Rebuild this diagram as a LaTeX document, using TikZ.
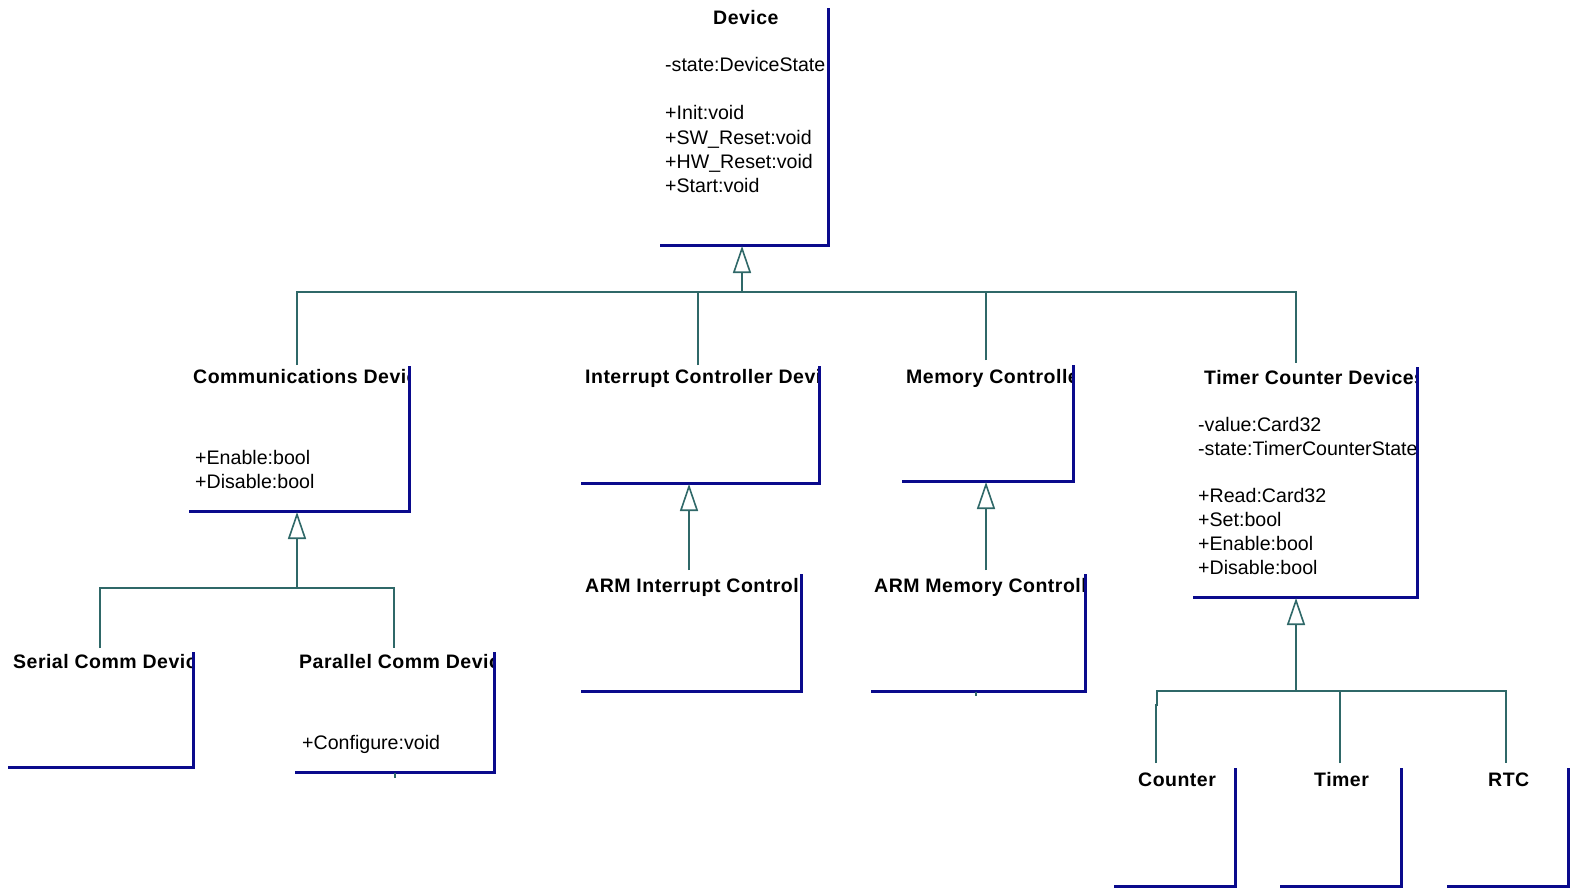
\documentclass[tikz,border=0pt]{standalone}
\usepackage{fontspec}
\setmainfont{Liberation Sans}
\newfontfamily\titlefont[LetterSpace=2.5]{Liberation Sans Bold}
\usetikzlibrary{arrows.meta}
\definecolor{boxblue}{RGB}{10,10,140}
\definecolor{lineteal}{RGB}{47,104,104}
\tikzset{
  boxline/.style={draw=boxblue,line width=3pt,line cap=rect},
  conn/.style={draw=lineteal,line width=1.6pt},
  inh/.style={conn,-{Triangle[open,length=27pt,width=18pt,line width=1.6pt]}},
  ctitle/.style={anchor=base west,inner sep=0pt,font=\fontsize{19.5pt}{24pt}\selectfont\titlefont},
  attr/.style={anchor=base west,inner sep=0pt,font=\fontsize{19.6pt}{24pt}\selectfont},
}
\begin{document}
\begin{tikzpicture}[x=1pt,y=-1pt]
\useasboundingbox (0,0) rectangle (1570,888);
\fill[white] (0,0) rectangle (1570,888);

% ---------- Device ----------
\begin{scope}
\clip (600,0) rectangle (827,246);
\node[ctitle] (devT) at (713,25) {Device};
\node[attr] (devA1) at (665,72) {-state:DeviceState};
\node[attr] (devA2) at (665,120) {+Init:void};
\node[attr] (devA3) at (665,144) {+SW\_Reset:void};
\node[attr] (devA4) at (665,168) {+HW\_Reset:void};
\node[attr] (devA5) at (665,192) {+Start:void};
\end{scope}
\draw[boxline] (661,245) -- (828,245) -- (828,10);

% ---------- Communications Device ----------
\begin{scope}
\clip (150,360) rectangle (408,512);
\node[ctitle] (comT) at (193,383) {Communications Devic};
\node[attr] (comA1) at (195,464) {+Enable:bool};
\node[attr] (comA2) at (195,488) {+Disable:bool};
\end{scope}
\draw[boxline] (190,511) -- (409,511) -- (409,367);

% ---------- Interrupt Controller Device ----------
\begin{scope}
\clip (550,360) rectangle (818,484);
\node[ctitle] (intT) at (585,383) {Interrupt Controller Devic};
\end{scope}
\draw[boxline] (582,483) -- (819,483) -- (819,367);

% ---------- Memory Controller ----------
\begin{scope}
\clip (880,360) rectangle (1072,482);
\node[ctitle] (memT) at (906,383) {Memory Controlle};
\end{scope}
\draw[boxline] (903,481) -- (1073,481) -- (1073,366);

% ---------- Timer Counter Device ----------
\begin{scope}
\clip (1150,360) rectangle (1416,598);
\node[ctitle] (tcdT) at (1204,384) {Timer Counter Devices};
\node[attr] (tcdA1) at (1198,431) {-value:Card32};
\node[attr] (tcdA2) at (1198,455) {-state:TimerCounterState};
\node[attr] (tcdA3) at (1198,502) {+Read:Card32};
\node[attr] (tcdA4) at (1198,526) {+Set:bool};
\node[attr] (tcdA5) at (1198,550) {+Enable:bool};
\node[attr] (tcdA6) at (1198,574) {+Disable:bool};
\end{scope}
\draw[boxline] (1194,597) -- (1417,597) -- (1417,368);

% ---------- Serial Comm Device ----------
\begin{scope}
\clip (0,640) rectangle (192,770);
\node[ctitle] (serT) at (13,668) {Serial Comm Devic};
\end{scope}
\draw[boxline] (9,767) -- (193,767) -- (193,653);

% ---------- Parallel Comm Device ----------
\begin{scope}
\clip (280,640) rectangle (493,774);
\node[ctitle] (parT) at (299,668) {Parallel Comm Devic};
\node[attr] (parA) at (302,749) {+Configure:void};
\end{scope}
\draw[boxline] (296,772) -- (494,772) -- (494,653);
\draw[conn] (395,773) -- (395,778);

% ---------- ARM Interrupt Controller ----------
\begin{scope}
\clip (560,570) rectangle (800,692);
\node[ctitle] (aintT) at (585,592) {ARM Interrupt Controlle};
\end{scope}
\draw[boxline] (582,691) -- (801,691) -- (801,575);

% ---------- ARM Memory Controller ----------
\begin{scope}
\clip (850,570) rectangle (1084,692);
\node[ctitle] (amemT) at (874,592) {ARM Memory Controlle};
\end{scope}
\draw[boxline] (872,691) -- (1085,691) -- (1085,575);
\draw[conn] (976,692) -- (976,696);

% ---------- Counter / Timer / RTC ----------
\node[ctitle] (cntT) at (1138,786) {Counter};
\draw[boxline] (1115,886) -- (1235,886) -- (1235,769);
\node[ctitle] (timT) at (1314,786) {Timer};
\draw[boxline] (1281,886) -- (1401,886) -- (1401,769);
\node[ctitle] (rtcT) at (1488,786) {RTC};
\draw[boxline] (1448,886) -- (1568,886) -- (1568,769);

% ---------- connectors ----------
% level 1
\coordinate (devApex) at (742,246);
\coordinate (bus1) at (742,292);
\coordinate (comTop) at (297,365);
\coordinate (intTop) at (698,365);
\coordinate (memTop) at (986,360);
\coordinate (tcdTop) at (1296,363);
\draw[inh] (bus1) -- (devApex);
\draw[conn] (comTop) |- (bus1) -| (tcdTop);
\draw[conn] (intTop) -- (intTop |- bus1);
\draw[conn] (memTop) -- (memTop |- bus1);

% communications
\coordinate (comApex) at (297,512);
\coordinate (bus2) at (297,588);
\coordinate (serTop) at (100,648);
\coordinate (parTop) at (394,648);
\draw[inh] (bus2) -- (comApex);
\draw[conn] (serTop) |- (bus2) -| (parTop);

% interrupt
\coordinate (intApex) at (689,484);
\coordinate (aintTop) at (689,570);
\draw[inh] (aintTop) -- (intApex);

% memory
\coordinate (memApex) at (986,482);
\coordinate (amemTop) at (986,570);
\draw[inh] (amemTop) -- (memApex);

% timer counter
\coordinate (tcdApex) at (1296,598);
\coordinate (bus3) at (1296,691);
\coordinate (cntJog) at (1157,705);
\coordinate (cntTop) at (1156,763);
\coordinate (timTop) at (1340,763);
\coordinate (rtcTop) at (1506,763);
\draw[inh] (bus3) -- (tcdApex);
\draw[conn] (cntTop) -- (cntTop |- cntJog) -- (cntJog) |- (bus3) -| (rtcTop);
\draw[conn] (timTop) -- (timTop |- bus3);
\end{tikzpicture}
\end{document}
